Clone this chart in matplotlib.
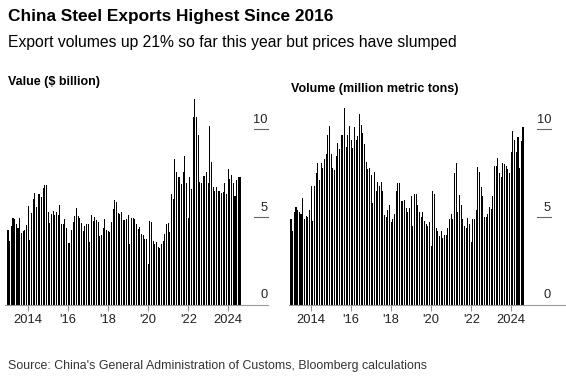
import numpy as np
import pandas as pd
import matplotlib
matplotlib.use("Agg")
import matplotlib.pyplot as plt
import matplotlib.transforms as mtransforms

plt.rcParams['font.family'] = ['Liberation Sans', 'DejaVu Sans']

# monthly data, Jan 2013 - Aug 2024
months = pd.date_range('2013-01-01', '2024-08-01', freq='MS')

value_bn = [
    4.23, 3.62, 4.48, 4.91, 4.86, 4.57, 4.38, 4.91, 4.06, 4.19, 4.23, 4.51,  # 2013
    5.60, 3.66, 5.24, 6.00, 6.34, 5.56, 6.29, 6.29, 6.10, 6.63, 6.82, 6.80,  # 2014
    5.28, 4.67, 5.18, 5.31, 5.10, 5.28, 5.10, 5.68, 4.61, 4.57, 4.86, 4.34,  # 2015
    3.49, 3.49, 4.23, 4.72, 5.05, 5.52, 5.05, 4.91, 4.67, 4.19, 4.48, 4.57,  # 2016
    4.57, 3.56, 5.09, 4.76, 4.99, 4.80, 4.72, 3.90, 3.96, 4.38, 4.90, 4.23,  # 2017
    4.19, 4.13, 4.70, 5.47, 5.94, 5.87, 5.20, 5.18, 5.28, 4.82, 4.82, 4.90,  # 2018
    5.10, 3.43, 4.95, 4.95, 4.86, 4.61, 4.32, 4.44, 4.00, 3.94, 3.71, 3.71,  # 2019
    2.29, 4.76, 4.70, 3.62, 3.43, 3.58, 3.30, 3.20, 3.43, 3.62, 4.04, 4.57,  # 2020
    4.63, 4.13, 6.32, 6.00, 8.29, 7.56, 7.28, 7.28, 6.86, 7.56, 8.48, 6.90,  # 2021
    4.95, 7.28, 6.61, 10.70, 11.71, 10.67, 9.68, 6.99, 6.90, 7.33, 7.33, 7.58,  # 2022
    6.90, 10.15, 8.10, 6.67, 6.48, 6.72, 6.48, 6.48, 6.34, 6.42, 6.90, 6.32,  # 2023
    7.71, 7.14, 7.37, 6.90, 6.19, 7.09, 7.24, 7.24,  # 2024
]

volume_mt = [
    4.90, 4.19, 5.28, 5.56, 5.39, 5.28, 5.14, 6.06, 4.90, 5.05, 4.99, 5.39,  # 2013
    6.76, 4.76, 6.76, 7.52, 8.06, 7.10, 8.06, 7.80, 8.30, 8.57, 9.66, 10.19,  # 2014
    8.57, 7.77, 7.66, 8.48, 9.20, 8.86, 9.66, 9.66, 11.20, 8.99, 9.66, 10.19,  # 2015
    9.37, 8.95, 10.13, 9.37, 9.62, 10.86, 10.23, 9.75, 9.14, 8.10, 7.71, 7.80,  # 2016
    7.39, 5.77, 7.56, 6.48, 6.99, 6.76, 6.99, 6.48, 5.10, 4.99, 5.37, 5.66,  # 2017
    4.70, 4.86, 5.14, 6.48, 6.90, 6.90, 5.90, 5.90, 5.94, 5.52, 5.28, 5.52,  # 2018
    6.19, 4.48, 6.29, 6.29, 5.66, 5.30, 4.99, 5.28, 4.76, 4.61, 4.48, 4.70,  # 2019
    3.33, 6.48, 6.29, 4.38, 4.19, 3.90, 4.19, 3.77, 3.96, 3.94, 4.38, 4.90,  # 2020
    5.14, 4.90, 7.52, 8.04, 5.28, 6.23, 5.66, 4.86, 4.48, 4.38, 4.95, 4.61,  # 2021
    3.56, 4.90, 4.90, 5.39, 7.81, 7.56, 6.70, 6.19, 4.99, 4.99, 5.14, 5.56,  # 2022
    5.47, 6.19, 7.90, 7.90, 8.38, 7.52, 7.28, 8.04, 8.00, 7.90, 7.71, 7.52,  # 2023
    8.67, 9.88, 9.35, 8.70, 9.55, 7.78, 9.30, 10.14,  # 2024
]

tick_years = [2014, 2016, 2018, 2020, 2022, 2024]
tick_labels = ['2014', "'16", "'18", "'20", "'22", '2024']
y_ticks = [0, 5, 10]

W, H = 566, 380
fig = plt.figure(figsize=(W / 100, H / 100), dpi=100)


def rect(x0, x1, y_top, y_bot):
    return [x0 / W, 1 - y_bot / H, (x1 - x0) / W, (y_bot - y_top) / H]


def panel(box, data, first_px, dash_px, label_px):
    ax = fig.add_axes(rect(*box))
    x = np.arange(len(data))
    ax.bar(x, data, width=0.62, color='black', linewidth=0)
    step = 1.669
    x0, x1 = box[0], box[1]
    ax.set_xlim((x0 - first_px) / step, (x1 - first_px) / step)
    ax.set_ylim(0, 12)
    for s in ['top', 'left', 'right']:
        ax.spines[s].set_visible(False)
    ax.spines['bottom'].set_color('#9a9a9a')
    ax.spines['bottom'].set_linewidth(0.8)
    ticks = [list(months.year).index(y) for y in tick_years]
    ax.set_xticks(ticks)
    ax.set_xticklabels(tick_labels, fontsize=9.3, color='#222222')
    ax.tick_params(axis='x', length=4, color='#9a9a9a', width=0.8, pad=3)
    ax.set_yticks([])
    trans = mtransforms.blended_transform_factory(ax.transAxes, ax.transData)
    w = x1 - x0
    for v in y_ticks:
        if v > 0:
            ax.plot([(dash_px[0] - x0) / w, (dash_px[1] - x0) / w], [v, v],
                    transform=trans, color='#666666', lw=0.8, clip_on=False)
        ax.text((label_px - x0) / w, v + 0.18, str(v), transform=trans,
                ha='right', va='bottom', fontsize=9.3, color='#222222')
    return ax


panel((5, 268, 94, 304.5), value_bn, 8, (254, 268), 268)
panel((289, 565, 94, 304.5), volume_mt, 291, (537, 551), 551)

fig.text(8 / W, 1 - 17 / H, 'China Steel Exports Highest Since 2016',
         fontsize=12.4, fontweight='bold', va='center', ha='left', color='black')
fig.text(8 / W, 1 - 42 / H, 'Export volumes up 21% so far this year but prices have slumped',
         fontsize=11.3, va='center', ha='left', color='black')
fig.text(8 / W, 1 - 82 / H, 'Value ($ billion)',
         fontsize=9, fontweight='bold', va='center', ha='left', color='black')
fig.text(291 / W, 1 - 89 / H, 'Volume (million metric tons)',
         fontsize=9, fontweight='bold', va='center', ha='left', color='black')
fig.text(8 / W, 1 - 366 / H,
         "Source: China's General Administration of Customs, Bloomberg calculations",
         fontsize=8.9, va='center', ha='left', color='#333333')

fig.savefig('out.png', dpi=100, facecolor='white')
